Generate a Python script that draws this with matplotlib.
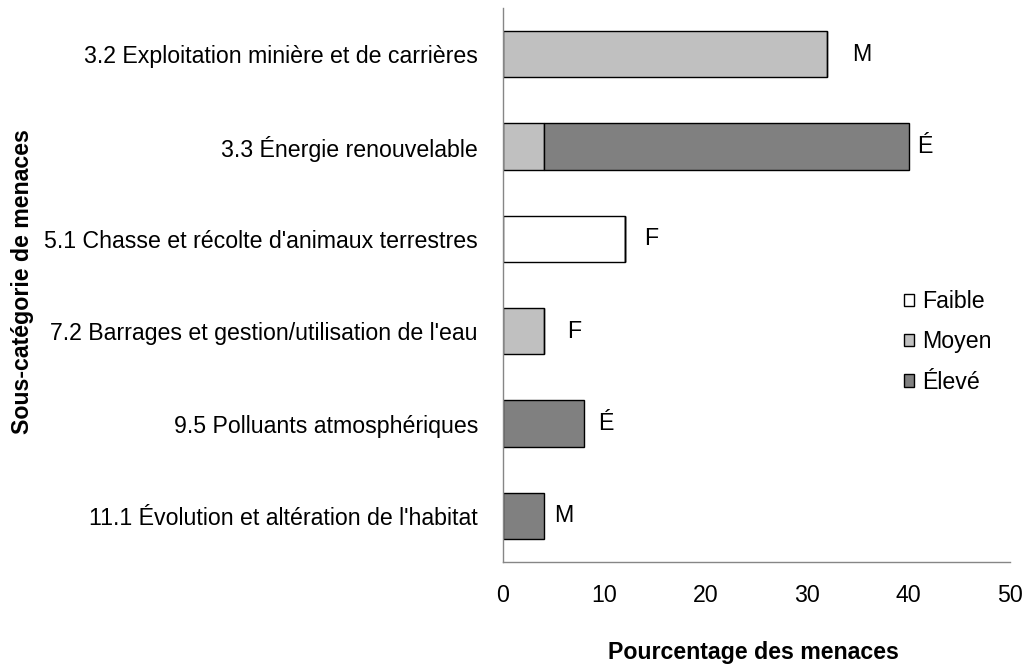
import matplotlib
matplotlib.use("Agg")
import matplotlib.pyplot as plt
import numpy as np

plt.rcParams['font.family'] = ['Liberation Sans', 'DejaVu Sans']

categories = [
    "3.2 Exploitation minière et de carrières",
    "3.3 Énergie renouvelable",
    "5.1 Chasse et récolte d'animaux terrestres",
    "7.2 Barrages et gestion/utilisation de l'eau",
    "9.5 Polluants atmosphériques",
    "11.1 Évolution et altération de l'habitat",
]
faible = [0, 0, 12, 0, 0, 0]
moyen = [32, 4, 0, 4, 0, 0]
eleve = [0, 36, 0, 0, 8, 4]
labels = ["M", "É", "F", "F", "É", "M"]
label_gap = [3.4, 1.6, 2.6, 3.0, 2.1, 2.0]  # gap from bar end to label centre

series_names = ["Faible", "Moyen", "Élevé"]
colors = ["#FFFFFF", "#C0C0C0", "#808080"]

FS = 16.7

fig = plt.figure(figsize=(10.23, 6.67), dpi=100)
ax = fig.add_axes([503/1023, 1-562/667, (1010-503)/1023, (562-8)/667])

y = np.arange(len(categories))
left = np.zeros(len(categories))
for vals, name, c in zip([faible, moyen, eleve], series_names, colors):
    v = np.array(vals, dtype=float)
    ax.barh(y, v, left=left, height=0.5, color=c, edgecolor="black",
            linewidth=1.0, label=name)
    left += v

for i, (tot, lab, g) in enumerate(zip(left, labels, label_gap)):
    ax.text(tot + g, y[i], lab, ha="center", va="center", fontsize=FS)

ax.set_xlim(0, 50)
ax.set_ylim(len(categories) - 0.5, -0.5)
ax.set_yticks(y)
ax.set_yticklabels(categories, fontsize=FS)
ax.set_xticks([0, 10, 20, 30, 40, 50])
ax.tick_params(axis="both", length=0, labelsize=FS)
ax.tick_params(axis="y", pad=18)
ax.tick_params(axis="x", pad=16)
for s in ["top", "right"]:
    ax.spines[s].set_visible(False)
for s in ["left", "bottom"]:
    ax.spines[s].set_color("#868686")
    ax.spines[s].set_linewidth(1.0)

fig.text(753/1023, 1-653/667, "Pourcentage des menaces", ha="center", va="center",
         fontsize=FS, fontweight="bold")
fig.text(23/1023, 1-282/667, "Sous-catégorie de menaces", rotation=90,
         ha="center", va="center", fontsize=FS, fontweight="bold")

leg = fig.legend(loc="upper left", bbox_to_anchor=(904/1023, 1-290/667), frameon=False,
                 fontsize=FS, handlelength=0.45, handleheight=0.45,
                 handletextpad=0.35, labelspacing=0.75, borderaxespad=0, borderpad=0)

fig.savefig("out.png", dpi=100)
